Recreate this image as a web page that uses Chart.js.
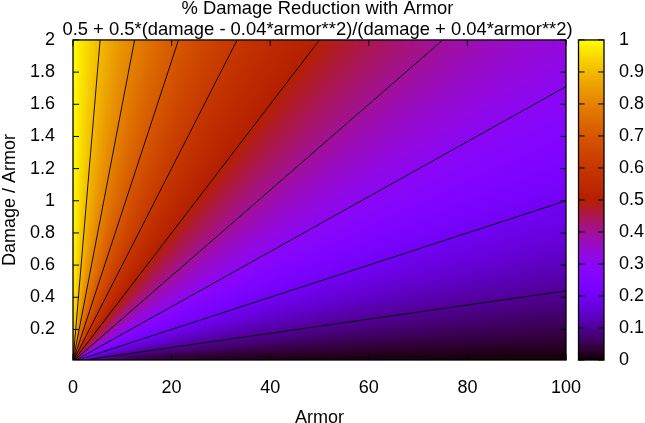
<!DOCTYPE html>
<html>
<head>
<meta charset="utf-8">
<style>
    body { margin: 0; background: #fff; }
    canvas { display: block; }
</style>
<script src="https://cdn.jsdelivr.net/npm/chart.js@4"></script>
</head>
<body>
<canvas id="damageChart" width="645" height="423"></canvas>
<script>
// Sample positions of the heatmap, closer together near the origin where the colours change fast
const armorSamples = [0.5, 1.5, 2.5, 3.5, 5, 7, 9, 11.25, 13.75, 16.25, 18.75, 22, 26, 30, 34, 38, 42, 46, 50, 54, 58, 62, 66, 70, 74, 78, 82, 86, 90, 94, 98];
const damageSamples = [0.03, 0.075, 0.125, 0.175, 0.25, 0.35, 0.45, 0.55, 0.65, 0.75, 0.85, 0.95, 1.05, 1.15, 1.25, 1.35, 1.45, 1.55, 1.65, 1.75, 1.85, 1.95];

// Damage reduction at those samples, bottom row first
const reductionRows = [
    [.6,.333,.231,.176,.13,.097,.077,.063,.052,.044,.038,.033,.028,.024,.022,.019,.018,.016,.015,.014,.013,.012,.011,.011,.01,.01,.009,.009,.008,.008,.008],
    [.789,.556,.429,.349,.273,.211,.172,.143,.12,.103,.091,.079,.067,.059,.052,.047,.043,.039,.036,.034,.031,.029,.028,.026,.025,.023,.022,.021,.02,.02,.019],
    [.862,.676,.556,.472,.385,.309,.258,.217,.185,.161,.143,.124,.107,.094,.084,.076,.069,.064,.059,.055,.051,.048,.045,.043,.041,.039,.037,.035,.034,.032,.031],
    [.897,.745,.636,.556,.467,.385,.327,.28,.241,.212,.189,.166,.144,.127,.114,.103,.094,.087,.08,.075,.07,.066,.062,.059,.056,.053,.051,.048,.046,.044,.043],
    [.926,.806,.714,.641,.556,.472,.41,.357,.313,.278,.25,.221,.194,.172,.155,.141,.13,.12,.111,.104,.097,.092,.087,.082,.078,.074,.071,.068,.065,.062,.06],
    [.946,.854,.778,.714,.636,.556,.493,.438,.389,.35,.318,.285,.252,.226,.205,.187,.172,.16,.149,.139,.131,.124,.117,.111,.106,.101,.096,.092,.089,.085,.082],
    [.957,.882,.818,.763,.692,.616,.556,.5,.45,.409,.375,.338,.302,.273,.249,.228,.211,.197,.184,.172,.162,.154,.146,.138,.132,.126,.121,.116,.111,.107,.103],
    [.965,.902,.846,.797,.733,.663,.604,.55,.5,.458,.423,.385,.346,.314,.288,.266,.247,.23,.216,.203,.192,.182,.172,.164,.157,.15,.144,.138,.133,.128,.123],
    [.97,.915,.867,.823,.765,.699,.644,.591,.542,.5,.464,.425,.385,.351,.323,.3,.279,.261,.245,.231,.219,.208,.198,.188,.18,.172,.165,.159,.153,.147,.142],
    [.974,.926,.882,.843,.789,.728,.676,.625,.577,.536,.5,.46,.419,.385,.355,.33,.309,.29,.273,.258,.244,.232,.221,.211,.202,.194,.186,.179,.172,.166,.161],
    [.977,.934,.895,.859,.81,.752,.702,.654,.607,.567,.531,.491,.45,.415,.385,.359,.336,.316,.298,.282,.268,.255,.244,.233,.223,.214,.206,.198,.191,.184,.178],
    [.979,.941,.905,.872,.826,.772,.725,.679,.633,.594,.559,.519,.477,.442,.411,.385,.361,.341,.322,.305,.291,.277,.265,.253,.243,.233,.225,.216,.209,.202,.195],
    [.981,.946,.913,.882,.84,.789,.745,.7,.656,.618,.583,.544,.502,.467,.436,.409,.385,.363,.344,.327,.312,.297,.285,.273,.262,.252,.242,.234,.226,.218,.211],
    [.983,.95,.92,.891,.852,.804,.762,.719,.676,.639,.605,.567,.525,.489,.458,.431,.406,.385,.365,.347,.331,.317,.303,.291,.28,.269,.26,.251,.242,.234,.227],
    [.984,.954,.926,.899,.862,.817,.776,.735,.694,.658,.625,.587,.546,.51,.479,.451,.427,.405,.385,.367,.35,.335,.321,.309,.297,.286,.276,.267,.258,.25,.242],
    [.985,.957,.931,.906,.871,.828,.789,.75,.711,.675,.643,.605,.565,.529,.498,.47,.446,.423,.403,.385,.368,.352,.338,.325,.313,.302,.292,.282,.273,.264,.256],
    [.986,.96,.935,.912,.879,.838,.801,.763,.725,.69,.659,.622,.582,.547,.516,.488,.463,.441,.42,.402,.385,.369,.355,.341,.329,.317,.307,.297,.287,.278,.27],
    [.987,.963,.939,.917,.886,.847,.812,.775,.738,.705,.674,.638,.598,.564,.533,.505,.48,.457,.437,.418,.401,.385,.37,.356,.344,.332,.321,.311,.301,.292,.283],
    [.988,.965,.943,.922,.892,.855,.821,.786,.75,.717,.688,.652,.613,.579,.548,.521,.495,.473,.452,.433,.416,.4,.385,.371,.358,.346,.335,.324,.314,.305,.296],
    [.989,.967,.946,.926,.897,.862,.829,.795,.761,.729,.7,.665,.627,.593,.563,.535,.51,.487,.467,.448,.43,.414,.399,.385,.372,.359,.348,.337,.327,.318,.309],
    [.989,.969,.949,.93,.902,.869,.837,.804,.771,.74,.712,.678,.64,.607,.576,.549,.524,.501,.481,.461,.444,.427,.412,.398,.385,.372,.361,.35,.339,.33,.321],
    [.99,.97,.951,.933,.907,.874,.844,.813,.78,.75,.722,.689,.652,.619,.589,.562,.537,.515,.494,.474,.457,.44,.425,.411,.397,.385,.373,.362,.351,.342,.332]
];

// Contour lines run from the origin to these points on the plot border
const contourArmor = [100, 100, 100, 75, 50, 33.3, 21.4, 12.5, 5.5];
const contourDamage = [0.44, 1, 1.71, 2, 2, 2, 2, 2, 2];

const armorTicks = [0, 20, 40, 60, 80, 100];
const damageTicks = [0.2, 0.4, 0.6, 0.8, 1, 1.2, 1.4, 1.6, 1.8, 2];
const barTicks = [0, 0.1, 0.2, 0.3, 0.4, 0.5, 0.6, 0.7, 0.8, 0.9, 1];

const titleLines = ['% Damage Reduction with Armor', '0.5 + 0.5*(damage - 0.04*armor**2)/(damage + 0.04*armor**2)'];
const fontFamily = '"Liberation Sans", Arial, sans-serif';
const barLeft = 578.5;
const barRight = 604;
const tickLength = 6;

// gnuplot's default pm3d palette (rgbformulae 7,5,15)
function paletteRgb(v) {
    return [
        Math.round(Math.sqrt(v) * 255),
        Math.round(v * v * v * 255),
        Math.round(Math.max(0, Math.sin(2 * Math.PI * v)) * 255)
    ];
}

// Index of the sample just below value, kept inside the list
function sampleIndex(samples, value) {
    let i = 0;
    while (i < samples.length - 2 && samples[i + 1] < value) i++;
    return i;
}

// Fraction between two samples, flat beyond the outer ones
function sampleFraction(samples, i, value) {
    const f = (value - samples[i]) / (samples[i + 1] - samples[i]);
    return Math.min(1, Math.max(0, f));
}

const heatmapPlugin = {
    id: 'heatmap',
    beforeDatasetsDraw(chart) {
        const { ctx, chartArea: area, scales: { x, y, colorbar } } = chart;

        // Smooth shading between the samples, like pm3d interpolate
        const left = Math.round(area.left);
        const top = Math.round(area.top);
        const width = Math.round(area.right) - left;
        const height = Math.round(area.bottom) - top;
        const image = ctx.createImageData(width, height);
        for (let py = 0; py < height; py++) {
            const damage = y.getValueForPixel(top + py + 0.5);
            const j = sampleIndex(damageSamples, damage);
            const fy = sampleFraction(damageSamples, j, damage);
            for (let px = 0; px < width; px++) {
                const armor = x.getValueForPixel(left + px + 0.5);
                const i = sampleIndex(armorSamples, armor);
                const fx = sampleFraction(armorSamples, i, armor);
                const low = reductionRows[j][i] * (1 - fx) + reductionRows[j][i + 1] * fx;
                const high = reductionRows[j + 1][i] * (1 - fx) + reductionRows[j + 1][i + 1] * fx;
                const rgb = paletteRgb(low * (1 - fy) + high * fy);
                const k = (py * width + px) * 4;
                image.data[k] = rgb[0];
                image.data[k + 1] = rgb[1];
                image.data[k + 2] = rgb[2];
                image.data[k + 3] = 255;
            }
        }
        ctx.putImageData(image, left, top);

        // Colour bar
        for (let py = top; py < top + height; py++) {
            const rgb = paletteRgb(colorbar.getValueForPixel(py + 0.5));
            ctx.fillStyle = `rgb(${rgb[0]},${rgb[1]},${rgb[2]})`;
            ctx.fillRect(barLeft, py, barRight - barLeft, 1);
        }
    },
    afterDatasetsDraw(chart) {
        const { ctx, chartArea: area, scales: { x, y, colorbar } } = chart;
        ctx.save();
        ctx.strokeStyle = '#000';
        ctx.lineWidth = 1;
        ctx.beginPath();
        armorTicks.forEach(t => {
            const px = x.getPixelForValue(t);
            ctx.moveTo(px, area.bottom);
            ctx.lineTo(px, area.bottom - tickLength);
            ctx.moveTo(px, area.top);
            ctx.lineTo(px, area.top + tickLength);
        });
        damageTicks.forEach(t => {
            const py = y.getPixelForValue(t);
            ctx.moveTo(area.left, py);
            ctx.lineTo(area.left + tickLength, py);
            ctx.moveTo(area.right, py);
            ctx.lineTo(area.right - tickLength, py);
        });
        barTicks.forEach(t => {
            const py = colorbar.getPixelForValue(t);
            ctx.moveTo(barLeft, py);
            ctx.lineTo(barLeft + tickLength, py);
            ctx.moveTo(barRight, py);
            ctx.lineTo(barRight - tickLength, py);
        });
        ctx.stroke();

        ctx.lineWidth = 1.3;
        ctx.strokeRect(area.left, area.top, area.right - area.left, area.bottom - area.top);
        ctx.strokeRect(barLeft, area.top, barRight - barLeft, area.bottom - area.top);
        ctx.restore();
    }
};

const contourDatasets = contourArmor.map((armor, i) => ({
    data: [{ x: 0, y: 0 }, { x: armor, y: contourDamage[i] }],
    showLine: true,
    borderColor: '#000',
    borderWidth: 0.9,
    pointRadius: 0,
    fill: false
}));

const labelFont = { family: fontFamily, size: 18 };

// Keep tick labels from pushing the plot area around
function dropScalePadding(scale) {
    scale.paddingTop = 0;
    scale.paddingBottom = 0;
    scale.paddingLeft = 0;
    scale.paddingRight = 0;
}

new Chart(document.getElementById('damageChart'), {
    type: 'scatter',
    data: { datasets: contourDatasets },
    plugins: [heatmapPlugin],
    options: {
        responsive: false,
        animation: false,
        devicePixelRatio: 1,
        // negative left padding moves the centred title 5px left, as in gnuplot
        layout: { padding: { top: -2, right: 0, left: -10, bottom: 0 } },
        plugins: {
            legend: { display: false },
            tooltip: { enabled: false },
            title: {
                display: true,
                text: titleLines,
                color: '#000',
                font: { family: fontFamily, size: 18.4, weight: 'normal', lineHeight: 1.14 },
                padding: { top: 0, bottom: 0 }
            }
        },
        scales: {
            x: {
                type: 'linear',
                min: 0,
                max: 100,
                grid: { display: false },
                border: { display: false },
                afterBuildTicks: scale => { scale.ticks = armorTicks.map(value => ({ value })); },
                afterFit: scale => { scale.height = 63; dropScalePadding(scale); },
                ticks: { color: '#000', font: labelFont, padding: 9, maxRotation: 0 },
                title: { display: true, text: 'Armor', color: '#000', font: labelFont, padding: { top: 0, bottom: -6 } }
            },
            y: {
                type: 'linear',
                min: 0.01,
                max: 2,
                grid: { display: false },
                border: { display: false },
                afterBuildTicks: scale => { scale.ticks = damageTicks.map(value => ({ value })); },
                afterFit: scale => { scale.width = 83; dropScalePadding(scale); },
                ticks: { color: '#000', font: labelFont, padding: 10, callback: value => String(value) },
                title: { display: true, text: 'Damage / Armor', color: '#000', font: labelFont, padding: { top: 9, bottom: 0 } }
            },
            colorbar: {
                type: 'linear',
                position: 'right',
                min: 0,
                max: 1,
                grid: { display: false },
                border: { display: false },
                afterBuildTicks: scale => { scale.ticks = barTicks.map(value => ({ value })); },
                afterFit: scale => { scale.width = 79; dropScalePadding(scale); },
                ticks: { color: '#000', font: labelFont, padding: 45, callback: value => String(value) }
            }
        }
    }
});
</script>
</body>
</html>
